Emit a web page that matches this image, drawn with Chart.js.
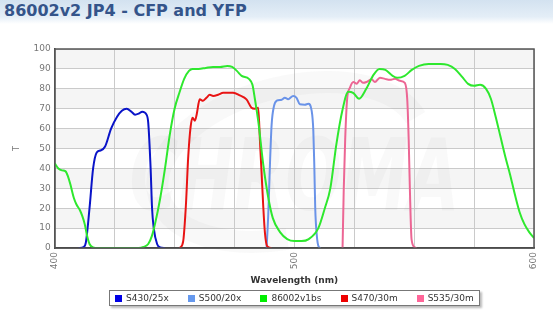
<!DOCTYPE html>
<html>
<head>
<meta charset="utf-8">
<script src="https://cdn.jsdelivr.net/npm/chart.js@4.4.1/dist/chart.umd.min.js"></script>
<style>
  html, body { margin: 0; padding: 0; background: #fff; }
  #wrap { position: relative; width: 553px; height: 329px; overflow: hidden; }
  #title {
    position: absolute; left: 0; top: 0; width: 553px; height: 24px;
    background: linear-gradient(#d3e2f0, #e4eef7 70%, #fff);
    font: bold 16px "DejaVu Sans", Verdana, sans-serif; color: #34548a;
    padding-left: 4px; line-height: 22px; box-sizing: border-box;
  }
  #myChart { position: absolute; left: 0; top: 0; }
  #legend {
    position: absolute; left: 109px; top: 290px; width: 371px; height: 16px;
    border: 1px solid #777; box-shadow: 2px 2px 2px #bbb; box-sizing: border-box;
    display: flex; align-items: center; gap: 19px; padding-left: 5px; background: #fff;
    font: 9px "DejaVu Sans", Verdana, sans-serif; color: #333;
  }
  #legend span.sw { display: inline-block; width: 7px; height: 7px; margin-right: 4px; vertical-align: -0.5px; }
</style>
</head>
<body>
<div id="wrap">
  <canvas id="myChart" width="553" height="329"></canvas>
  <div id="title">86002v2 JP4 - CFP and YFP</div>
  <div id="legend"></div>
</div>
<script>
// transmission curves, wavelength (nm) / T (%)
const s430Nm = [410, 412, 413, 414.5, 416, 417.5, 419, 421, 423.5, 426, 428, 430, 432, 433.5, 435, 436.5, 438.3, 439, 440, 440.6, 441.3, 442.7, 444, 446];
const s430T  = [0, 0.5, 3, 20, 40, 48, 49, 51, 60, 66, 69, 70, 68.5, 67, 67.5, 68.5, 67, 63, 40, 20, 10, 2, 0.3, 0];

const s500Nm = [488.4, 489.1, 489.8, 490.5, 491.5, 492.6, 494.7, 496, 497.4, 499.5, 500.9, 502.3, 504.4, 505.8, 507.2, 507.9, 508.3, 508.7, 509.3, 510.2, 511];
const s500T  = [0, 17, 42, 62, 71.4, 74, 74.5, 75.5, 74.8, 76.4, 75.5, 72.2, 72, 72.5, 69, 59, 42, 20, 7, 0.5, 0];

const bsNm = [400, 401.5, 403, 404.5, 405.5, 406.5, 408, 409, 410.5, 411.5, 412.5, 413.5, 414.5, 416, 418, 435, 437, 439, 440.5, 442, 444, 446, 448, 450, 452, 454, 456, 457.5, 460, 463, 466, 469, 472, 474, 476, 478, 481, 482.5, 483.5, 485, 487, 489, 491, 494, 497, 500, 503, 506, 510, 512.7, 515, 517.5, 520, 522.5, 524.5, 527, 530, 533, 535.5, 538, 541, 543, 546, 549, 552, 556, 561, 564, 567, 570, 572.5, 575, 577.5, 580, 582, 584, 586, 588, 590, 592, 594, 596, 598, 600];
const bsT  = [42.5, 40, 39, 38.5, 36, 32, 25, 22, 19, 16, 12, 6, 2, 0.3, 0, 0, 0.5, 2, 6, 13, 25, 40, 57, 70, 78, 85, 89, 90, 90, 90.5, 91, 91, 91.5, 91, 89, 86.5, 85, 82, 75, 63, 42, 26, 15, 8, 4.5, 3.5, 3.5, 4.5, 10, 20, 30, 52, 69, 78.5, 78, 75, 80, 87, 90, 89.5, 86.5, 85.5, 86.5, 89.5, 91.5, 92.5, 92.5, 92, 90, 86, 82.5, 81.5, 82, 80, 75, 66, 56, 46, 37, 27, 18, 12, 8, 5];

const s470Nm = [452.2, 453.6, 454.7, 455.7, 456.7, 457.5, 458.5, 459.2, 460.5, 461.9, 463.3, 464.7, 466.1, 468.2, 470.3, 474.4, 477.2, 480, 482.1, 483.5, 484.9, 485.6, 486.3, 487, 487.7, 488.6, 490.5];
const s470T  = [0, 3.5, 21, 46, 61, 65.5, 64, 67, 74.7, 74, 75.5, 77, 76.4, 77, 78, 78, 76.7, 74.7, 70.5, 70, 70.5, 54.6, 38, 21, 7.7, 1, 0];

const s535Nm = [520.1, 520.6, 521.2, 522, 523.2, 524.6, 526, 527.3, 528.7, 530.1, 532.2, 533.6, 535.7, 537.8, 539.9, 542, 544.1, 546.1, 547.1, 547.7, 548.2, 548.9, 550.3, 551];
const s535T  = [0, 29.5, 54.6, 74.7, 80.6, 83.4, 82.6, 84.3, 83, 83.4, 84.8, 83.4, 85.6, 85, 84.5, 85, 84, 83, 74.7, 54.6, 29.5, 4.4, 0.3, 0];

const seriesNames = ['S430/25x', 'S500/20x', '86002v1bs', 'S470/30m', 'S535/30m'];
const lineColors = ['#0a14c8', '#6a93e8', '#2ee82e', '#e81414', '#ec6694'];
const swatchColors = ['#0000e6', '#6699ee', '#00ee00', '#ee0000', '#ff6699'];

const xTicks = [400, 500, 600];
const yTicks = [0, 10, 20, 30, 40, 50, 60, 70, 80, 90, 100];

function pts(nm, t) {
    return nm.map((x, i) => ({ x: x, y: t[i] }));
}

const curves = [pts(s430Nm, s430T), pts(s500Nm, s500T), pts(bsNm, bsT), pts(s470Nm, s470T), pts(s535Nm, s535T)];
// draw order: green underneath the filters
const drawOrder = [2, 0, 3, 1, 4];

// alternating grey bands behind the grid
const bands = {
    id: 'bands',
    beforeDraw(chart) {
        const { ctx, chartArea: a, scales: { y } } = chart;
        ctx.save();
        for (let v = 90; v >= 0; v -= 20) {
            const top = y.getPixelForValue(v + 10);
            const bot = y.getPixelForValue(v);
            ctx.fillStyle = '#f5f5f5';
            ctx.fillRect(a.left, top, a.right - a.left, bot - top);
        }
        ctx.restore();
    }
};

// faint logo text in the plot
const watermark = {
    id: 'watermark',
    beforeDatasetsDraw(chart) {
        const { ctx, chartArea: a } = chart;
        const cx = (a.left + a.right) / 2;
        ctx.save();
        ctx.strokeStyle = 'rgba(110,110,110,0.045)';
        ctx.lineWidth = 22;
        ctx.beginPath();
        ctx.ellipse(cx - 5, 162, 135, 75, -0.25, 0.55 * Math.PI, 1.95 * Math.PI);
        ctx.stroke();
        ctx.font = 'italic bold 100px "DejaVu Sans"';
        const w = ctx.measureText('CHROMA').width;
        ctx.translate(cx, 210);
        ctx.scale(330 / w, 1);
        ctx.fillStyle = 'rgba(110,110,110,0.045)';
        ctx.textAlign = 'center';
        ctx.fillText('CHROMA', 0, 0);
        ctx.restore();
    }
};

// dark frame around the plot area
const frame = {
    id: 'frame',
    afterDraw(chart) {
        const { ctx, chartArea: a } = chart;
        ctx.save();
        ctx.strokeStyle = '#555';
        ctx.lineWidth = 1.5;
        ctx.strokeRect(a.left, a.top, a.right - a.left, a.bottom - a.top);
        ctx.restore();
    }
};

const tickFont = { family: '"DejaVu Sans", Verdana, sans-serif', size: 9 };

new Chart(document.getElementById('myChart').getContext('2d'), {
    type: 'line',
    data: {
        datasets: drawOrder.map(i => ({
            label: seriesNames[i],
            data: curves[i],
            borderColor: lineColors[i],
            borderWidth: 2,
            pointRadius: 0,
            fill: false,
            cubicInterpolationMode: 'monotone'
        }))
    },
    options: {
        responsive: false,
        animation: false,
        layout: { padding: { left: 12, right: 19, top: 49, bottom: 43 } },
        plugins: { legend: { display: false }, tooltip: { enabled: false } },
        scales: {
            x: {
                type: 'linear', min: 400, max: 600,
                border: { color: '#333', width: 1.5 },
                grid: { color: '#cacaca', drawTicks: false },
                afterBuildTicks: s => {
                    s.ticks = [];
                    for (let v = 400; v <= 600; v += 25) s.ticks.push({ value: v });
                },
                ticks: {
                    autoSkip: false, minRotation: 90, maxRotation: 90, padding: 4,
                    color: '#777', font: tickFont,
                    callback: v => xTicks.includes(v) ? String(v) : ''
                },
                title: {
                    display: true, text: 'Wavelength (nm)', color: '#333',
                    font: { family: '"DejaVu Sans", Verdana, sans-serif', size: 9, weight: 'bold' },
                    padding: { top: 2, bottom: 0 }
                }
            },
            y: {
                min: 0, max: 100,
                border: { color: '#333', width: 1.5 },
                grid: { color: '#cacaca', drawTicks: false },
                afterBuildTicks: s => { s.ticks = yTicks.map(v => ({ value: v })); },
                ticks: { padding: 4, color: '#777', font: tickFont },
                title: {
                    display: true, text: 'T', color: '#777',
                    font: { family: '"DejaVu Sans", Verdana, sans-serif', size: 8 },
                    padding: { top: 0, bottom: 8 }
                }
            }
        }
    },
    plugins: [bands, watermark, frame]
});

// legend row under the chart
const legend = document.getElementById('legend');
seriesNames.forEach((name, i) => {
    const item = document.createElement('div');
    item.innerHTML = '<span class="sw" style="background:' + swatchColors[i] + '"></span>' + name;
    legend.appendChild(item);
});
</script>
</body>
</html>
